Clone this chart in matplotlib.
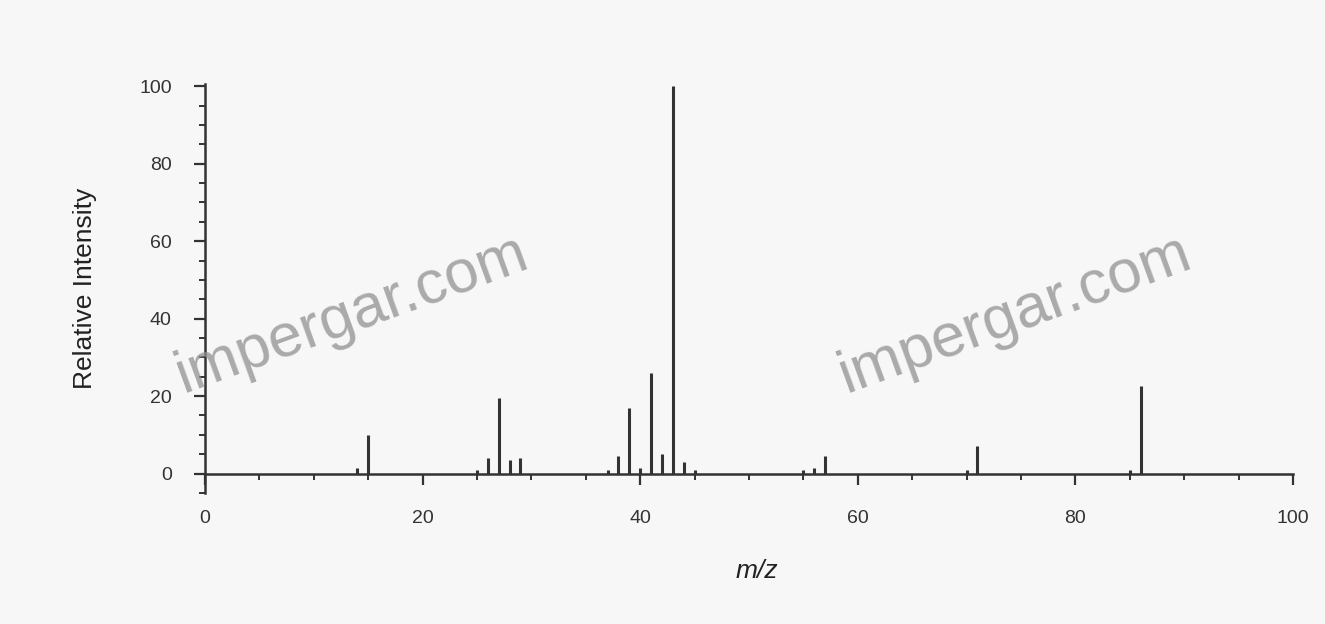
import numpy as np
import matplotlib
matplotlib.use("Agg")
import matplotlib.pyplot as plt
from matplotlib.ticker import MultipleLocator

plt.rcParams["font.family"] = ["Liberation Sans", "DejaVu Sans"]

# ---- data -------------------------------------------------------------------
mz = [14, 15, 25, 26, 27, 28, 29, 37, 38, 39, 40, 41, 42, 43, 44, 45,
      55, 56, 57, 70, 71, 85, 86]
intensity = [1.5, 10, 1, 4, 19.5, 3.5, 4, 1, 4.5, 17, 1.5, 26, 5, 100, 3, 1,
             1, 1.5, 4.5, 1, 7, 1, 22.5]
watermark = "impergar.com"

BG = "#f7f7f7"
INK = "#333333"

fig = plt.figure(figsize=(13.25, 6.24), dpi=100, facecolor=BG)
ax = fig.add_axes([0.1547, 0.210, 0.8211, 0.655])
ax.set_facecolor(BG)

ax.vlines(mz, 0, intensity, color=INK, lw=2.2)

ax.set_xlim(0, 100)
ax.set_ylim(-5, 100.5)
ax.spines["bottom"].set_position(("data", 0))
for s in ["top", "right"]:
    ax.spines[s].set_visible(False)
for s in ["left", "bottom"]:
    ax.spines[s].set_linewidth(1.8)
    ax.spines[s].set_color(INK)

ax.xaxis.set_major_locator(MultipleLocator(20))
ax.xaxis.set_minor_locator(MultipleLocator(5))
ax.yaxis.set_major_locator(MultipleLocator(20))
ax.yaxis.set_minor_locator(MultipleLocator(5))
ax.tick_params(which="major", length=8, width=1.6, color=INK, labelsize=14,
               labelcolor="#333333")
ax.tick_params(which="minor", length=4, width=1.4, color=INK)
ax.tick_params(axis="x", pad=18)
ax.tick_params(axis="y", pad=16)

ax.set_ylabel("Relative Intensity", fontsize=19, color="#222222", labelpad=30)
fig.text(0.571, 0.085, "m/z", fontsize=19, style="italic", color="#222222",
         ha="center", va="center")

# watermarks
for xw, yw in [(0.266, 0.495), (0.766, 0.495)]:
    fig.text(xw, yw, watermark, fontsize=44, color="#909090", alpha=0.75,
             rotation=20, ha="center", va="center")

fig.savefig("out.png", dpi=100, facecolor=BG)
